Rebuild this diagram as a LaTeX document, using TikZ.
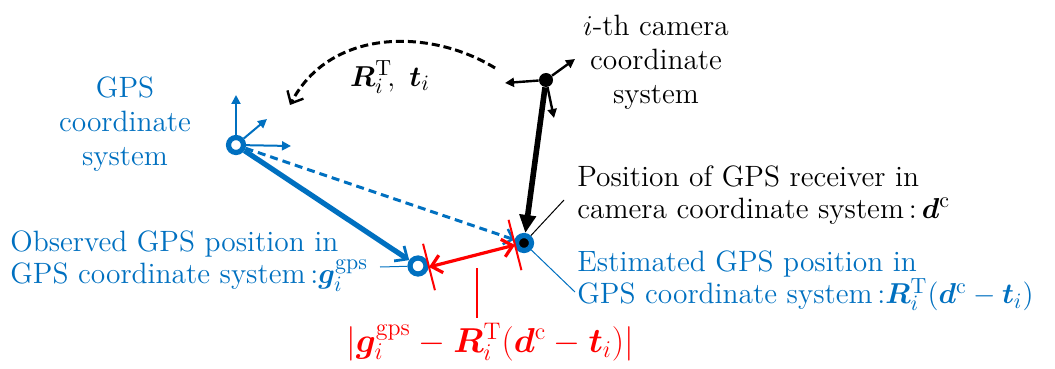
\documentclass[tikz,border=0pt]{standalone}
\usepackage{bm}
\usetikzlibrary{arrows.meta,calc}
\definecolor{pblue}{HTML}{0070C0}
\definecolor{pred}{HTML}{FF0000}
\newcommand{\bigmath}[1]{{\fontsize{15.8}{16}\selectfont$#1$}}
\begin{document}
\begin{tikzpicture}[x=0.5pt,y=-0.5pt,
  txt/.style={inner sep=0pt,font=\fontsize{14.7}{16}\selectfont},
  axis/.style={line width=1pt,-{Triangle[length=4.5pt,width=4.5pt]}},
  ring/.style={circle,draw=pblue,line width=2.6pt,fill=white,minimum size=7.5pt,inner sep=0pt},
  estring/.style={circle,draw=pblue,line width=2.6pt,fill=black,minimum size=7.5pt,inner sep=0pt},
  camdot/.style={circle,fill=black,minimum size=7pt,inner sep=0pt},
  barb/.style={-{Straight Barb[length=5pt,width=9pt,line width=1.4pt]}}
]
\useasboundingbox (0,0) rectangle (1055,369);
% points
\node[ring] (G) at (236,145) {};
\node[camdot] (C) at (546,80) {};
\node[ring,minimum size=8pt] (O) at (418,266) {};
\node[estring] (E) at (524,243) {};
% GPS axes
\coordinate (gx) at (291,146);
\coordinate (gy) at (236,95);
\coordinate (gz) at (267,119);
\draw[axis,pblue] (G) -- (gy);
\draw[axis,pblue] (G) -- (gz);
\draw[axis,pblue] (G) -- (gx);
% camera axes
\coordinate (cx) at (505,83);
\coordinate (cy) at (575,59);
\coordinate (cz) at (554,118);
\draw[axis,black,line width=1.2pt] (C) -- (cx);
\draw[axis,black,line width=1.2pt] (C) -- (cy);
\draw[axis,black,line width=1.2pt] (C) -- (cz);
% arrows
\draw[pblue,line width=2.6pt,barb] (G) -- (O);
\draw[pblue,line width=1.5pt,dash pattern=on 4pt off 2.5pt,
  -{Straight Barb[length=4pt,width=8pt,line width=1.2pt]}] (G) -- (E);
\draw[black,line width=2.8pt,-{Triangle[length=9pt,width=8pt]}] (C) -- (E);
% red difference
\coordinate (eL) at (429,267);
\coordinate (eR) at (515,245);
\draw[pred,line width=1.6pt,{Straight Barb[length=5pt,width=9pt]}-{Straight Barb[length=5pt,width=9pt]}] (eL) -- (eR);
\draw[pred,line width=1pt] ($(eL)!12pt!90:(eR)$) -- ($(eL)!12pt!-90:(eR)$);
\draw[pred,line width=1pt] ($(eR)!13pt!90:(eL)$) -- ($(eR)!13pt!-90:(eL)$);
% transform curve
\coordinate (t0) at (495,68);
\coordinate (t1) at (290,105);
\draw[black,line width=1.5pt,dash pattern=on 4pt off 2pt,
  -{Straight Barb[length=5pt,width=9pt,line width=1.2pt]}]
  (t0) .. controls (430,28) and (330,28) .. (t1);
\node[txt] (RT) at (390,77) {\bigmath{\bm{R}_i^{\mathrm{T}}\!,\ \bm{t}_i}};
% labels
\node[txt,align=center] (camlab) at (656,62) {$i$-th camera\\[1pt]coordinate\\[1pt]system};
\node[txt,align=center,text=pblue] (gpslab) at (125,124) {GPS\\[1pt]coordinate\\[1pt]system};
\node[txt,align=left,anchor=west] (poslab) at (577,195) {Position of GPS receiver in\\camera coordinate system\,:\,\bigmath{\bm{d}^{\mathrm{c}}}};
\node[txt,align=left,anchor=west,text=pblue] (estlab) at (577,281) {Estimated GPS position in\\GPS coordinate system\,:\bigmath{\bm{R}_i^{\mathrm{T}}(\bm{d}^{\mathrm{c}}-\bm{t}_i)}};
\node[txt,align=left,anchor=west,text=pblue] (obslab) at (10,261) {Observed GPS position in\\GPS coordinate system\,:\bigmath{\bm{g}_i^{\mathrm{gps}}}};
\node[txt,text=pred,font=\fontsize{17}{18}\selectfont] (difflab) at (490,342) {$|\bm{g}_i^{\mathrm{gps}}-\bm{R}_i^{\mathrm{T}}(\bm{d}^{\mathrm{c}}-\bm{t}_i)|$};
% leader lines
\coordinate (pl) at (564,200);
\coordinate (el) at (575,292);
\coordinate (ol) at (380,267);
\coordinate (dl) at (477,268);
\coordinate (dl2) at (477,318);
\draw[black,line width=0.5pt] (E) -- (pl);
\draw[pblue,line width=0.5pt] (E) -- (el);
\draw[pblue,line width=0.5pt] (ol) -- (O);
\draw[pred,line width=0.6pt] (dl) -- (dl2);
\end{tikzpicture}
\end{document}
